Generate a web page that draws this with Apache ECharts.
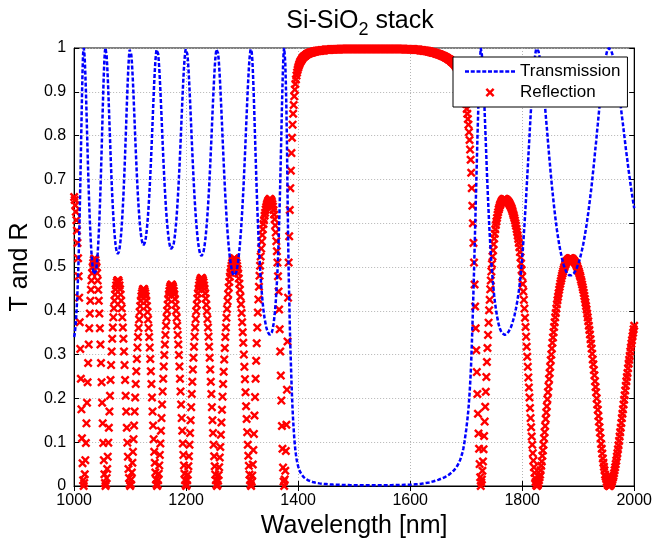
<!DOCTYPE html>
<html>
<head>
<meta charset="utf-8">
<script src="https://cdn.jsdelivr.net/npm/echarts@6/dist/echarts.min.js"></script>
<style>
  html, body { margin: 0; padding: 0; background: #fff; }
  #chart { width: 655px; height: 544px; }
</style>
</head>
<body>
<div id="chart"></div>
<script>
// wavelength grid of the samples (nm)
const wavelengthStart = 1000;
const wavelengthStep = 1;

// one value per nm from 1000 to 2000 (10 per row)
const transmission = [
  .340,.347,.359,.374,.393,.417,.445,.480,.521,.570,
  .626,.687,.755,.825,.891,.948,.987,1.000,.993,.973,
  .941,.902,.857,.810,.763,.719,.677,.640,.606,.577,
  .552,.531,.514,.500,.491,.484,.481,.481,.484,.491,
  .500,.514,.531,.552,.577,.606,.640,.677,.719,.763,
  .810,.857,.902,.941,.973,.993,1.000,.996,.982,.961,
  .933,.901,.867,.830,.794,.758,.724,.693,.664,.638,
  .615,.594,.577,.563,.551,.542,.535,.531,.530,.531,
  .535,.542,.551,.563,.577,.594,.615,.638,.664,.693,
  .724,.758,.794,.830,.867,.901,.933,.961,.982,.996,
  1.000,.996,.985,.969,.947,.922,.893,.862,.830,.798,
  .767,.738,.710,.684,.660,.639,.620,.603,.589,.577,
  .567,.560,.555,.551,.550,.551,.555,.560,.567,.577,
  .589,.603,.620,.639,.660,.684,.710,.738,.767,.798,
  .830,.862,.893,.922,.947,.969,.985,.996,1.000,.997,
  .987,.972,.953,.929,.903,.874,.845,.814,.784,.755,
  .727,.701,.677,.655,.634,.616,.600,.586,.573,.563,
  .555,.548,.544,.541,.540,.541,.544,.548,.555,.563,
  .573,.586,.600,.616,.634,.655,.677,.701,.727,.755,
  .784,.814,.845,.874,.903,.929,.953,.972,.987,.997,
  1.000,.997,.987,.974,.955,.932,.906,.879,.850,.820,
  .790,.762,.734,.707,.682,.659,.638,.619,.601,.586,
  .572,.560,.550,.542,.535,.530,.527,.525,.525,.527,
  .530,.535,.542,.550,.560,.572,.586,.601,.619,.638,
  .659,.682,.707,.734,.762,.790,.820,.850,.879,.906,
  .932,.955,.974,.987,.997,1.000,.997,.988,.975,.957,
  .935,.911,.883,.855,.826,.796,.767,.739,.711,.685,
  .660,.638,.616,.596,.578,.562,.547,.534,.522,.513,
  .504,.497,.491,.486,.483,.481,.480,.481,.483,.486,
  .491,.498,.505,.515,.526,.538,.552,.568,.585,.605,
  .626,.649,.673,.700,.728,.756,.786,.818,.847,.877,
  .906,.931,.954,.974,.987,.997,1.000,.991,.976,.951,
  .918,.881,.839,.797,.755,.714,.674,.638,.604,.574,
  .545,.520,.497,.476,.458,.442,.427,.414,.402,.393,
  .383,.376,.369,.363,.358,.354,.351,.348,.347,.345,
  .345,.346,.348,.351,.356,.362,.370,.380,.391,.405,
  .421,.441,.464,.490,.521,.556,.597,.642,.693,.748,
  .805,.863,.915,.958,.990,1.000,.985,.965,.920,.860,
  .780,.670,.570,.490,.430,.370,.320,.280,.240,.205,
  .175,.150,.130,.110,.095,.082,.072,.063,.056,.050,
  .045,.041,.037,.034,.031,.029,.027,.025,.023,.0215,
  .020,.019,.018,.017,.016,.015,.014,.0135,.013,.0125,
  .012,.0115,.011,.0105,.010,.0096,.0092,.0088,.0085,.0082,
  .0079,.0076,.0073,.0070,.0068,.0066,.0064,.0062,.0060,.0058,
  .0056,.0054,.0053,.0051,.0050,.0048,.0047,.0046,.0045,.0044,
  .0043,.0042,.0041,.0040,.0039,.0038,.0037,.0036,.0035,.0035,
  .0034,.0033,.0032,.0031,.0031,.0030,.0030,.0029,.0029,.0028,
  .0028,.0027,.0027,.0026,.0026,.0025,.0025,.0024,.0024,.0023,
  .0023,.0022,.0022,.0022,.0022,.0021,.0021,.0021,.0021,.0020,
  .0020,.0020,.0020,.0019,.0019,.0019,.0019,.0018,.0018,.0018,
  .0018,.0018,.0018,.0017,.0017,.0017,.0017,.0017,.0017,.0016,
  .0016,.0016,.0016,.0016,.0016,.0016,.0016,.0015,.0015,.0015,
  .0015,.0015,.0015,.0015,.0015,.0015,.0015,.0015,.0015,.0015,
  .0015,.0015,.0015,.0015,.0015,.0015,.0015,.0015,.0015,.0015,
  .0015,.0015,.0015,.0015,.0015,.0015,.0015,.0015,.0016,.0016,
  .0016,.0016,.0016,.0016,.0016,.0016,.0017,.0017,.0017,.0017,
  .0017,.0017,.0018,.0018,.0018,.0018,.0019,.0019,.0019,.0019,
  .0020,.0020,.0020,.0021,.0021,.0021,.0022,.0022,.0022,.0022,
  .0023,.0023,.0024,.0024,.0024,.0025,.0025,.0025,.0026,.0026,
  .0027,.0027,.0027,.0028,.0028,.0028,.0029,.0029,.0029,.0029,
  .0030,.0030,.0031,.0032,.0033,.0033,.0034,.0035,.0036,.0037,
  .0038,.0039,.0040,.0041,.0042,.0043,.0045,.0046,.0048,.0050,
  .0052,.0053,.0055,.0057,.0059,.0061,.0063,.0065,.0067,.0069,
  .0072,.0074,.0077,.0079,.0082,.0085,.0088,.0091,.0094,.0097,
  .0100,.0103,.0107,.0111,.0115,.0119,.0123,.0127,.0131,.0135,
  .0140,.0145,.0150,.0155,.0160,.0165,.0170,.0175,.0180,.0185,
  .0190,.0196,.0203,.0210,.0217,.0224,.0232,.0240,.0248,.0256,
  .0265,.0275,.0285,.0297,.0310,.0322,.0335,.0345,.0355,.0367,
  .038,.040,.042,.044,.046,.048,.050,.053,.056,.059,
  .062,.066,.070,.075,.080,.086,.093,.101,.110,.119,
  .128,.139,.150,.162,.175,.192,.210,.232,.255,.285,
  .320,.360,.400,.445,.490,.540,.590,.640,.690,.740,
  .790,.835,.880,.915,.950,.980,1.000,.992,.985,.965,
  .944,.916,.886,.853,.819,.785,.751,.717,.685,.655,
  .627,.599,.575,.551,.531,.510,.493,.476,.462,.448,
  .435,.424,.414,.404,.396,.388,.381,.375,.369,.365,
  .360,.357,.354,.351,.349,.347,.346,.345,.345,.345,
  .346,.346,.347,.348,.350,.351,.353,.355,.358,.360,
  .363,.366,.370,.374,.379,.383,.388,.394,.400,.406,
  .413,.420,.428,.436,.445,.455,.466,.478,.492,.507,
  .522,.539,.556,.575,.595,.616,.637,.659,.682,.705,
  .728,.752,.775,.798,.822,.845,.866,.887,.906,.925,
  .942,.957,.970,.982,.991,.998,1.000,.999,.997,.993,
  .987,.980,.974,.964,.954,.944,.931,.919,.906,.891,
  .877,.863,.847,.832,.818,.802,.786,.772,.756,.742,
  .728,.713,.700,.686,.673,.661,.649,.637,.626,.615,
  .605,.595,.585,.576,.568,.560,.552,.545,.538,.532,
  .526,.520,.515,.510,.505,.501,.498,.494,.491,.489,
  .486,.485,.483,.482,.481,.480,.480,.480,.481,.481,
  .482,.484,.485,.487,.489,.491,.493,.496,.499,.503,
  .506,.510,.514,.519,.523,.529,.534,.540,.546,.552,
  .559,.566,.573,.581,.589,.597,.606,.615,.624,.634,
  .644,.654,.665,.675,.686,.698,.711,.722,.735,.747,
  .761,.774,.786,.800,.814,.826,.840,.853,.866,.878,
  .891,.904,.915,.926,.937,.947,.956,.964,.974,.979,
  .984,.990,.995,.998,.999,1.000,1.000,.999,.997,.994,
  .990,.986,.981,.977,.971,.964,.957,.950,.942,.933,
  .925,.916,.907,.897,.887,.877,.867,.856,.845,.835,
  .825,.814,.803,.793,.782,.771,.761,.751,.742,.731,
  .721,.712,.703,.693,.684,.675,.667,.658,.650,.642,
  .634
];

const reflection = [
  .660,.653,.641,.626,.607,.583,.555,.520,.479,.430,
  .374,.313,.245,.175,.109,.052,.013,.000,.007,.027,
  .059,.098,.143,.190,.237,.281,.323,.360,.394,.423,
  .448,.469,.486,.500,.509,.516,.519,.519,.516,.509,
  .500,.486,.469,.448,.423,.394,.360,.323,.281,.237,
  .190,.143,.098,.059,.027,.007,.000,.004,.018,.039,
  .067,.099,.133,.170,.206,.242,.276,.307,.336,.362,
  .385,.406,.423,.437,.449,.458,.465,.469,.470,.469,
  .465,.458,.449,.437,.423,.406,.385,.362,.336,.307,
  .276,.242,.206,.170,.133,.099,.067,.039,.018,.004,
  .000,.004,.015,.031,.053,.078,.107,.138,.170,.202,
  .233,.262,.290,.316,.340,.361,.380,.397,.411,.423,
  .433,.440,.445,.449,.450,.449,.445,.440,.433,.423,
  .411,.397,.380,.361,.340,.316,.290,.262,.233,.202,
  .170,.138,.107,.078,.053,.031,.015,.004,.000,.003,
  .013,.028,.047,.071,.097,.126,.155,.186,.216,.245,
  .273,.299,.323,.345,.366,.384,.400,.414,.427,.437,
  .445,.452,.456,.459,.460,.459,.456,.452,.445,.437,
  .427,.414,.400,.384,.366,.345,.323,.299,.273,.245,
  .216,.186,.155,.126,.097,.071,.047,.028,.013,.003,
  .000,.003,.013,.026,.045,.068,.094,.121,.150,.180,
  .210,.238,.266,.293,.318,.341,.362,.381,.399,.414,
  .428,.440,.450,.458,.465,.470,.473,.475,.475,.473,
  .470,.465,.458,.450,.440,.428,.414,.399,.381,.362,
  .341,.318,.293,.266,.238,.210,.180,.150,.121,.094,
  .068,.045,.026,.013,.003,.000,.003,.012,.025,.043,
  .065,.089,.117,.145,.174,.204,.233,.261,.289,.315,
  .340,.362,.384,.404,.422,.438,.453,.466,.478,.487,
  .496,.503,.509,.514,.517,.519,.520,.519,.517,.514,
  .509,.502,.495,.485,.474,.462,.448,.432,.415,.395,
  .374,.351,.327,.300,.272,.244,.214,.182,.153,.123,
  .094,.069,.046,.026,.013,.003,.000,.009,.024,.049,
  .082,.119,.161,.203,.245,.286,.326,.362,.396,.426,
  .455,.480,.503,.524,.542,.558,.573,.586,.598,.607,
  .617,.624,.631,.637,.642,.646,.649,.652,.653,.655,
  .655,.654,.652,.649,.644,.638,.630,.620,.609,.595,
  .579,.559,.536,.510,.479,.444,.403,.358,.307,.252,
  .195,.137,.085,.042,.010,.000,.015,.035,.080,.140,
  .220,.330,.430,.510,.570,.630,.680,.720,.760,.795,
  .825,.850,.870,.890,.905,.918,.928,.937,.944,.950,
  .955,.959,.963,.966,.969,.971,.973,.975,.977,.979,
  .980,.981,.982,.983,.984,.985,.986,.987,.987,.988,
  .988,.989,.989,.990,.990,.990,.991,.991,.992,.992,
  .992,.992,.993,.993,.993,.993,.994,.994,.994,.994,
  .994,.995,.995,.995,.995,.995,.995,.995,.996,.996,
  .996,.996,.996,.996,.996,.996,.996,.996,.997,.997,
  .997,.997,.997,.997,.997,.997,.997,.997,.997,.997,
  .997,.997,.997,.997,.997,.998,.998,.998,.998,.998,
  .998,.998,.998,.998,.998,.998,.998,.998,.998,.998,
  .998,.998,.998,.998,.998,.998,.998,.998,.998,.998,
  .998,.998,.998,.998,.998,.998,.998,.998,.998,.998,
  .998,.998,.998,.998,.998,.998,.998,.998,.998,.998,
  .998,.998,.998,.998,.998,.998,.998,.998,.998,.998,
  .998,.998,.998,.998,.998,.998,.998,.998,.998,.998,
  .998,.998,.998,.998,.998,.998,.998,.998,.998,.998,
  .998,.998,.998,.998,.998,.998,.998,.998,.998,.998,
  .998,.998,.998,.998,.998,.998,.998,.998,.998,.998,
  .998,.998,.998,.998,.998,.998,.998,.998,.998,.998,
  .998,.998,.998,.998,.998,.998,.998,.998,.998,.998,
  .997,.997,.997,.997,.997,.997,.997,.997,.997,.997,
  .997,.997,.997,.997,.997,.997,.997,.997,.996,.996,
  .996,.996,.996,.996,.996,.996,.996,.995,.995,.995,
  .995,.995,.995,.994,.994,.994,.994,.994,.993,.993,
  .993,.993,.992,.992,.992,.992,.991,.991,.991,.990,
  .990,.990,.989,.989,.989,.988,.988,.987,.987,.987,
  .986,.986,.985,.985,.984,.984,.983,.983,.982,.982,
  .981,.980,.980,.979,.978,.978,.977,.976,.975,.974,
  .974,.973,.972,.970,.969,.968,.967,.966,.965,.963,
  .962,.960,.958,.956,.954,.952,.950,.947,.944,.941,
  .938,.934,.930,.925,.920,.914,.907,.899,.890,.881,
  .872,.861,.850,.838,.825,.808,.790,.768,.745,.715,
  .680,.640,.600,.555,.510,.460,.410,.360,.310,.260,
  .210,.165,.120,.085,.050,.020,.000,.008,.015,.035,
  .056,.084,.114,.147,.181,.215,.249,.283,.315,.345,
  .373,.401,.425,.449,.469,.490,.507,.524,.538,.552,
  .565,.576,.586,.596,.604,.612,.619,.625,.631,.635,
  .640,.643,.646,.649,.651,.653,.654,.655,.655,.655,
  .654,.654,.653,.652,.650,.649,.647,.645,.642,.640,
  .637,.634,.630,.626,.621,.617,.612,.606,.600,.594,
  .587,.580,.572,.564,.555,.545,.534,.522,.508,.493,
  .478,.461,.444,.425,.405,.384,.363,.341,.318,.295,
  .272,.248,.225,.202,.178,.155,.134,.113,.094,.075,
  .058,.043,.030,.018,.009,.002,.000,.001,.003,.007,
  .013,.020,.026,.036,.046,.056,.069,.081,.094,.109,
  .123,.137,.153,.168,.182,.198,.214,.228,.244,.258,
  .272,.287,.300,.314,.327,.339,.351,.363,.374,.385,
  .395,.405,.415,.424,.432,.440,.448,.455,.462,.468,
  .474,.480,.485,.490,.495,.499,.502,.506,.509,.511,
  .514,.515,.517,.518,.519,.520,.520,.520,.519,.519,
  .518,.516,.515,.513,.511,.509,.507,.504,.501,.497,
  .494,.490,.486,.481,.477,.471,.466,.460,.454,.448,
  .441,.434,.427,.419,.411,.403,.394,.385,.376,.366,
  .356,.346,.335,.325,.314,.302,.289,.278,.265,.253,
  .239,.226,.214,.200,.186,.174,.160,.147,.134,.122,
  .109,.096,.085,.074,.063,.053,.044,.036,.026,.021,
  .016,.010,.005,.002,.001,.000,.000,.001,.003,.006,
  .010,.014,.019,.023,.029,.036,.043,.050,.058,.067,
  .075,.084,.093,.103,.113,.123,.133,.144,.155,.165,
  .175,.186,.197,.207,.218,.229,.239,.249,.258,.269,
  .279,.288,.297,.307,.316,.325,.333,.342,.350,.358,
  .366
];

// axis ranges and tick steps
const xRange = [1000, 2000];
const xTickStep = 200;
const yRange = [0, 1];
const yTickStep = 0.1;

const font = "'Liberation Sans', Arial, Helvetica, sans-serif";
// filled "x" marker, like matlab's 'x'
const crossMark = "path://M0,1.9L1.9,0L5,3.1L8.1,0L10,1.9L6.9,5L10,8.1L8.1,10L5,6.9L1.9,10L0,8.1L3.1,5Z";
// dashed line sample for the legend
const dashIcon = "path://M0,0h4v2.5h-4Z M5.75,0h4v2.5h-4Z M11.5,0h4v2.5h-4Z M17.25,0h4v2.5h-4Z M23,0h4v2.5h-4Z M28.75,0h4v2.5h-4Z M34.5,0h4v2.5h-4Z M40.25,0h4v2.5h-4Z M46,0h4v2.5h-4Z";

const tData = transmission.map((v, i) => [wavelengthStart + i * wavelengthStep, v]);
const rData = reflection.map((v, i) => [wavelengthStart + i * wavelengthStep, v]);

const chart = echarts.init(document.getElementById("chart"));

const gridLine = { show: true, lineStyle: { color: "#b4b4b4", type: [1, 2], width: 1 } };

let option = {
  animation: false,
  backgroundColor: "#fff",
  title: {
    text: "{a|Si-SiO}{b|2}{a| stack}",
    left: 355,
    top: -2,
    textAlign: "center",
    textStyle: {
      fontWeight: "normal",
      rich: {
        a: { fontFamily: font, fontSize: 25, fontWeight: "normal", color: "#000", lineHeight: 36 },
        b: { fontFamily: font, fontSize: 18, fontWeight: "normal", color: "#000", verticalAlign: "bottom" }
      }
    }
  },
  grid: {
    left: 74, right: 18, top: 48, bottom: 58,
    show: true, borderColor: "#000", borderWidth: 1, backgroundColor: "transparent"
  },
  legend: {
    orient: "vertical",
    left: 453,
    top: 57,
    backgroundColor: "#fff",
    borderColor: "#000",
    borderWidth: 1,
    borderRadius: 0,
    padding: [6, 7, 6, 12],
    itemGap: 4,
    itemWidth: 50,
    itemHeight: 9,
    textStyle: { fontFamily: font, fontSize: 17, color: "#000" },
    data: [
      { name: "Transmission", icon: dashIcon, itemStyle: { color: "#0000ff" } },
      { name: "Reflection", icon: crossMark }
    ]
  },
  xAxis: [{
    type: "value",
    min: xRange[0], max: xRange[1], interval: xTickStep,
    name: "Wavelength [nm]",
    nameLocation: "middle",
    nameGap: 24,
    nameTextStyle: { fontFamily: font, fontSize: 25, color: "#000" },
    axisLine: { show: true, lineStyle: { color: "#000", width: 1 } },
    axisTick: { show: true, inside: true, length: 5, lineStyle: { color: "#000" } },
    axisLabel: { fontFamily: font, fontSize: 16, color: "#000", margin: 7, formatter: v => String(v) },
    splitLine: gridLine
  }, {
    type: "value", position: "top",
    min: xRange[0], max: xRange[1], interval: xTickStep,
    axisLine: { show: true, lineStyle: { color: "#000" } },
    axisTick: { show: true, inside: true, length: 5, lineStyle: { color: "#000" } },
    axisLabel: { show: false },
    splitLine: { show: false }
  }],
  yAxis: [{
    type: "value",
    min: yRange[0], max: yRange[1], interval: yTickStep,
    name: "T and R",
    nameLocation: "middle",
    nameGap: 35,
    nameTextStyle: { fontFamily: font, fontSize: 25, color: "#000" },
    axisLine: { show: true, lineStyle: { color: "#000", width: 1 } },
    axisTick: { show: true, inside: true, length: 5, lineStyle: { color: "#000" } },
    axisLabel: { fontFamily: font, fontSize: 16, color: "#000", margin: 8 },
    splitLine: gridLine
  }, {
    type: "value", position: "right",
    min: yRange[0], max: yRange[1], interval: yTickStep,
    axisLine: { show: true, lineStyle: { color: "#000" } },
    axisTick: { show: true, inside: true, length: 5, lineStyle: { color: "#000" } },
    axisLabel: { show: false },
    splitLine: { show: false }
  }],
  series: [
    {
      name: "Reflection",
      type: "scatter",
      data: rData,
      symbol: crossMark,
      symbolSize: 9,
      itemStyle: { color: "#ff0000", opacity: 1 },
      z: 2
    },
    {
      name: "Transmission",
      type: "line",
      data: tData,
      symbol: "none",
      lineStyle: { color: "#0000ff", width: 2.5, type: [4, 2] },
      itemStyle: { color: "#0000ff" },
      z: 3
    }
  ]
};

chart.setOption(option);
</script>
</body>
</html>
